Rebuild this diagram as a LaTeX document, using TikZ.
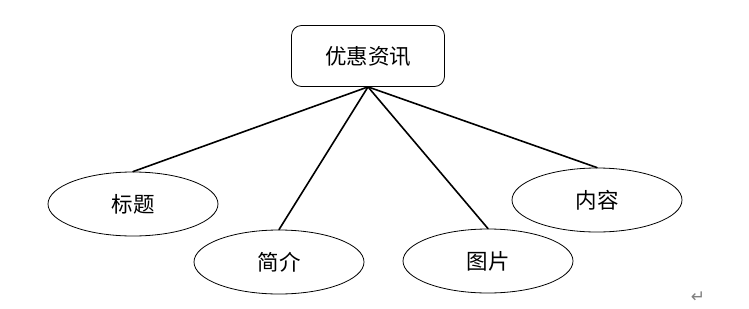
\documentclass[tikz,border=0pt]{standalone}
\usepackage{fontspec}
\newfontfamily\cjk{Noto Sans CJK SC}
\newfontfamily\symfont{DejaVu Sans}
\usepackage{tikz}
\usetikzlibrary{shapes.geometric}

\begin{document}
\begin{tikzpicture}[x=1pt,y=-1pt,font=\cjk\fontsize{21.5}{25}\selectfont,line cap=round,
  entitybox/.style={draw,rounded corners=10pt,minimum width=153pt,minimum height=61pt,inner sep=0pt,line width=0.8pt},
  attrib/.style={ellipse,draw,minimum width=170pt,minimum height=64pt,inner sep=0pt,line width=0.8pt},
  link/.style={line width=1.6pt}]
\useasboundingbox (0,0) rectangle (749,308);
\node[entitybox] (offer) at (368,56) {优惠资讯};
\node[attrib] (title) at (133,204) {标题};
\node[attrib] (brief) at (279,262) {简介};
\node[attrib] (image) at (488,261) {图片};
\node[attrib] (content) at (597,200) {内容};
\draw[link] (offer.south) -- (title.north);
\draw[link] (offer.south) -- (brief.north);
\draw[link] (offer.south) -- (image.north);
\draw[link] (offer.south) -- (content.north);
\node[text=gray,font=\symfont\fontsize{17}{19}\selectfont] (mark) at (698,297) {↵};
\end{tikzpicture}
\end{document}
